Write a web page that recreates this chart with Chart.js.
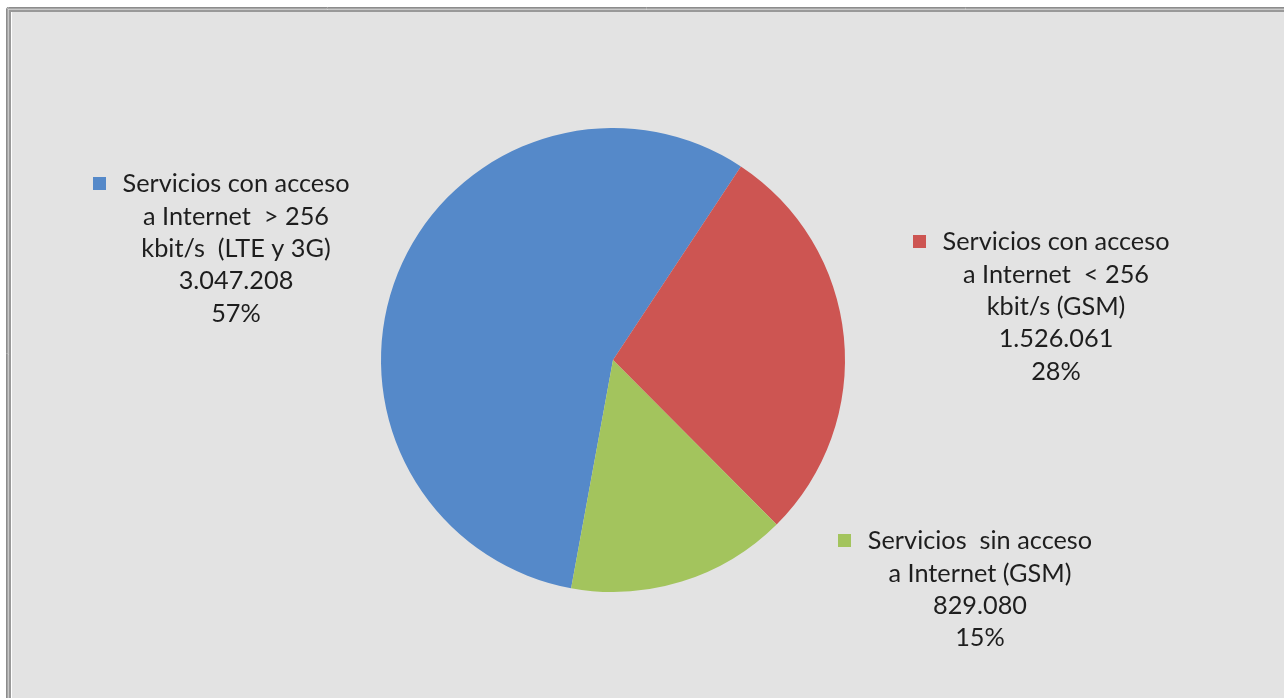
<!DOCTYPE html>
<html>
<head>
<meta charset="utf-8">
<script src="https://cdn.jsdelivr.net/npm/chart.js@4"></script>
<style>
html,body{margin:0;padding:0;background:#fff;}
#wrap{position:absolute;left:0;top:0;width:1284px;height:698px;}
</style>
</head>
<body>
<div id="wrap"><canvas id="c" width="1284" height="698"></canvas></div>
<script>
const categories = [
  ["Servicios con acceso", "a Internet  > 256", "kbit/s  (LTE y 3G)"],
  ["Servicios con acceso", "a Internet  < 256", "kbit/s (GSM)"],
  ["Servicios  sin acceso", "a Internet (GSM)"]
];
const values = [3047208, 1526061, 829080];
const percentLabels = ["57%", "28%", "15%"];
const colors = ["#5589C9", "#CD5552", "#A3C45D"];

function fmt(n){ return String(n).replace(/\B(?=(\d{3})+(?!\d))/g, "."); }

const labelPos = [
  {cx: 236, y: 184, sq: 93},
  {cx: 1056, y: 242, sq: 913},
  {cx: 980, y: 541, sq: 838}
];

const framePlugin = {
  id: 'frame',
  beforeDraw(chart){
    const ctx = chart.ctx;
    ctx.save();
    ctx.fillStyle = '#ffffff';
    ctx.fillRect(0,0,chart.width,chart.height);
    ctx.fillStyle = '#e3e3e3';
    ctx.fillRect(12,12,chart.width,chart.height);
    ctx.lineWidth = 1;
    ctx.strokeStyle = '#8c8c8c';
    ctx.beginPath(); ctx.moveTo(6.5,chart.height+5); ctx.lineTo(6.5,8.5); ctx.quadraticCurveTo(6.5,7.5,8.5,7.5); ctx.lineTo(chart.width+5,7.5); ctx.stroke();
    ctx.strokeStyle = '#a6a6a6';
    ctx.beginPath(); ctx.moveTo(7.5,chart.height+5); ctx.lineTo(7.5,8.5); ctx.lineTo(chart.width+5,8.5); ctx.stroke();
    ctx.strokeStyle = '#c8c8c8';
    ctx.beginPath(); ctx.moveTo(8.5,chart.height+5); ctx.lineTo(8.5,9.5); ctx.lineTo(chart.width+5,9.5); ctx.stroke();
    ctx.strokeStyle = '#999999';
    ctx.lineWidth = 2;
    ctx.beginPath(); ctx.moveTo(10,chart.height+5); ctx.lineTo(10,11); ctx.lineTo(chart.width+5,11); ctx.stroke();
    ctx.restore();
  }
};

const labelPlugin = {
  id: 'sliceLabels',
  afterDraw(chart){
    const ctx = chart.ctx;
    ctx.save();
    ctx.font = '25.3px Lato';
    ctx.fillStyle = '#1e1e1e';
    ctx.textAlign = 'center';
    ctx.textBaseline = 'middle';
    const lh = 32.4;
    chart.data.labels.forEach((lab, i) => {
      const p = labelPos[i];
      const lines = lab.concat([fmt(chart.data.datasets[0].data[i]), percentLabels[i]]);
      lines.forEach((t, k) => ctx.fillText(t, p.cx, p.y + k*lh));
      ctx.fillStyle = colors[i];
      ctx.fillRect(p.sq, p.y - 7, 13, 13);
      ctx.fillStyle = '#1e1e1e';
    });
    ctx.restore();
  }
};

new Chart(document.getElementById('c'), {
  type: 'pie',
  data: {
    labels: categories,
    datasets: [{
      data: values,
      backgroundColor: colors,
      borderWidth: 0
    }]
  },
  options: {
    responsive: false,
    animation: false,
    rotation: -169.6,
    layout: { padding: { left: 381, right: 439, top: 128, bottom: 106 } },
    plugins: { legend: { display: false }, tooltip: { enabled: false }, title: { display: false } }
  },
  plugins: [framePlugin, labelPlugin]
});
</script>
</body>
</html>
